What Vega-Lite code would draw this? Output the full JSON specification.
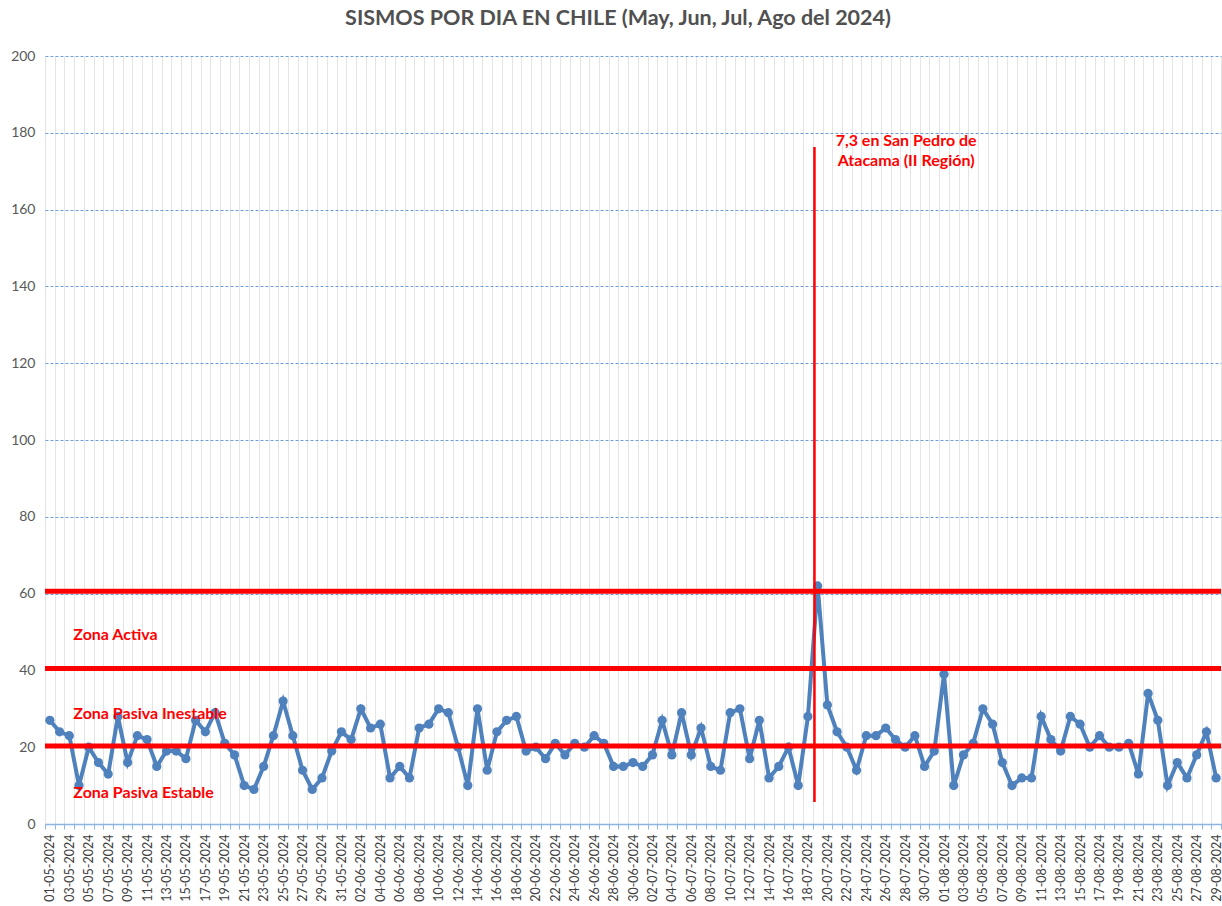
{
  "$schema": "https://vega.github.io/schema/vega-lite/v6.json",
  "autosize": "none",
  "width": 1176,
  "height": 768,
  "padding": {"left": 45, "top": 56, "right": 1, "bottom": 82},
  "background": "white",
  "config": {"view": {"stroke": null}, "font": "Lato"},
  "title": {"text": "SISMOS POR DIA EN CHILE (May, Jun, Jul, Ago del 2024)", "fontSize": 21.5, "font": "Lato", "fontWeight": "bold", "color": "#505050", "offset": 20, "dx": -15, "anchor": "middle"},
  "data": {"values": [
    {"fecha": "01-05-2024", "sismos": 27}, {"fecha": "02-05-2024", "sismos": 24}, {"fecha": "03-05-2024", "sismos": 23}, {"fecha": "04-05-2024", "sismos": 10}, {"fecha": "05-05-2024", "sismos": 20}, {"fecha": "06-05-2024", "sismos": 16}, {"fecha": "07-05-2024", "sismos": 13}, {"fecha": "08-05-2024", "sismos": 28}, {"fecha": "09-05-2024", "sismos": 16}, {"fecha": "10-05-2024", "sismos": 23},
    {"fecha": "11-05-2024", "sismos": 22}, {"fecha": "12-05-2024", "sismos": 15}, {"fecha": "13-05-2024", "sismos": 19}, {"fecha": "14-05-2024", "sismos": 19}, {"fecha": "15-05-2024", "sismos": 17}, {"fecha": "16-05-2024", "sismos": 27}, {"fecha": "17-05-2024", "sismos": 24}, {"fecha": "18-05-2024", "sismos": 29}, {"fecha": "19-05-2024", "sismos": 21}, {"fecha": "20-05-2024", "sismos": 18},
    {"fecha": "21-05-2024", "sismos": 10}, {"fecha": "22-05-2024", "sismos": 9}, {"fecha": "23-05-2024", "sismos": 15}, {"fecha": "24-05-2024", "sismos": 23}, {"fecha": "25-05-2024", "sismos": 32}, {"fecha": "26-05-2024", "sismos": 23}, {"fecha": "27-05-2024", "sismos": 14}, {"fecha": "28-05-2024", "sismos": 9}, {"fecha": "29-05-2024", "sismos": 12}, {"fecha": "30-05-2024", "sismos": 19},
    {"fecha": "31-05-2024", "sismos": 24}, {"fecha": "01-06-2024", "sismos": 22}, {"fecha": "02-06-2024", "sismos": 30}, {"fecha": "03-06-2024", "sismos": 25}, {"fecha": "04-06-2024", "sismos": 26}, {"fecha": "05-06-2024", "sismos": 12}, {"fecha": "06-06-2024", "sismos": 15}, {"fecha": "07-06-2024", "sismos": 12}, {"fecha": "08-06-2024", "sismos": 25}, {"fecha": "09-06-2024", "sismos": 26},
    {"fecha": "10-06-2024", "sismos": 30}, {"fecha": "11-06-2024", "sismos": 29}, {"fecha": "12-06-2024", "sismos": 20}, {"fecha": "13-06-2024", "sismos": 10}, {"fecha": "14-06-2024", "sismos": 30}, {"fecha": "15-06-2024", "sismos": 14}, {"fecha": "16-06-2024", "sismos": 24}, {"fecha": "17-06-2024", "sismos": 27}, {"fecha": "18-06-2024", "sismos": 28}, {"fecha": "19-06-2024", "sismos": 19},
    {"fecha": "20-06-2024", "sismos": 20}, {"fecha": "21-06-2024", "sismos": 17}, {"fecha": "22-06-2024", "sismos": 21}, {"fecha": "23-06-2024", "sismos": 18}, {"fecha": "24-06-2024", "sismos": 21}, {"fecha": "25-06-2024", "sismos": 20}, {"fecha": "26-06-2024", "sismos": 23}, {"fecha": "27-06-2024", "sismos": 21}, {"fecha": "28-06-2024", "sismos": 15}, {"fecha": "29-06-2024", "sismos": 15},
    {"fecha": "30-06-2024", "sismos": 16}, {"fecha": "01-07-2024", "sismos": 15}, {"fecha": "02-07-2024", "sismos": 18}, {"fecha": "03-07-2024", "sismos": 27}, {"fecha": "04-07-2024", "sismos": 18}, {"fecha": "05-07-2024", "sismos": 29}, {"fecha": "06-07-2024", "sismos": 18}, {"fecha": "07-07-2024", "sismos": 25}, {"fecha": "08-07-2024", "sismos": 15}, {"fecha": "09-07-2024", "sismos": 14},
    {"fecha": "10-07-2024", "sismos": 29}, {"fecha": "11-07-2024", "sismos": 30}, {"fecha": "12-07-2024", "sismos": 17}, {"fecha": "13-07-2024", "sismos": 27}, {"fecha": "14-07-2024", "sismos": 12}, {"fecha": "15-07-2024", "sismos": 15}, {"fecha": "16-07-2024", "sismos": 20}, {"fecha": "17-07-2024", "sismos": 10}, {"fecha": "18-07-2024", "sismos": 28}, {"fecha": "19-07-2024", "sismos": 62},
    {"fecha": "20-07-2024", "sismos": 31}, {"fecha": "21-07-2024", "sismos": 24}, {"fecha": "22-07-2024", "sismos": 20}, {"fecha": "23-07-2024", "sismos": 14}, {"fecha": "24-07-2024", "sismos": 23}, {"fecha": "25-07-2024", "sismos": 23}, {"fecha": "26-07-2024", "sismos": 25}, {"fecha": "27-07-2024", "sismos": 22}, {"fecha": "28-07-2024", "sismos": 20}, {"fecha": "29-07-2024", "sismos": 23},
    {"fecha": "30-07-2024", "sismos": 15}, {"fecha": "31-07-2024", "sismos": 19}, {"fecha": "01-08-2024", "sismos": 39}, {"fecha": "02-08-2024", "sismos": 10}, {"fecha": "03-08-2024", "sismos": 18}, {"fecha": "04-08-2024", "sismos": 21}, {"fecha": "05-08-2024", "sismos": 30}, {"fecha": "06-08-2024", "sismos": 26}, {"fecha": "07-08-2024", "sismos": 16}, {"fecha": "08-08-2024", "sismos": 10},
    {"fecha": "09-08-2024", "sismos": 12}, {"fecha": "10-08-2024", "sismos": 12}, {"fecha": "11-08-2024", "sismos": 28}, {"fecha": "12-08-2024", "sismos": 22}, {"fecha": "13-08-2024", "sismos": 19}, {"fecha": "14-08-2024", "sismos": 28}, {"fecha": "15-08-2024", "sismos": 26}, {"fecha": "16-08-2024", "sismos": 20}, {"fecha": "17-08-2024", "sismos": 23}, {"fecha": "18-08-2024", "sismos": 20},
    {"fecha": "19-08-2024", "sismos": 20}, {"fecha": "20-08-2024", "sismos": 21}, {"fecha": "21-08-2024", "sismos": 13}, {"fecha": "22-08-2024", "sismos": 34}, {"fecha": "23-08-2024", "sismos": 27}, {"fecha": "24-08-2024", "sismos": 10}, {"fecha": "25-08-2024", "sismos": 16}, {"fecha": "26-08-2024", "sismos": 12}, {"fecha": "27-08-2024", "sismos": 18}, {"fecha": "28-08-2024", "sismos": 24},
    {"fecha": "29-08-2024", "sismos": 12}
  ]},
  "encoding": {
    "x": {
      "field": "fecha", "type": "ordinal", "sort": null, "title": null,
      "scale": {"type": "band", "paddingInner": 0, "paddingOuter": 0},
      "axis": {
        "labelAngle": -90, "labelFontSize": 12.5, "labelColor": "#404040", "labelPadding": 5,
        "labelExpr": "round(datum.index * 120) % 2 === 0 ? datum.label : ''",
        "labelOverlap": false,
        "tickBand": "extent", "ticks": true, "tickColor": "#8DB4E2", "tickSize": 5, "tickWidth": 1,
        "domainColor": "#8DB4E2", "domainWidth": 1.5,
        "grid": true, "gridColor": "#E4E4E4", "gridWidth": 1
      }
    }
  },
  "layer": [
    {
      "mark": {"type": "line", "color": "#4F81BD", "strokeWidth": 4, "point": {"filled": true, "size": 85, "color": "#4F81BD"}},
      "encoding": {
        "y": {
          "field": "sismos", "type": "quantitative", "title": null,
          "scale": {"domain": [0, 200], "nice": false},
          "axis": {"values": [0, 20, 40, 60, 80, 100, 120, 140, 160, 180, 200], "labelFontSize": 14, "labelColor": "#595959", "labelPadding": 10, "ticks": false, "domain": false, "grid": true, "gridColor": "#6F9FD8", "gridDash": [3, 2], "gridWidth": 1}
        }
      }
    },
    {
      "data": {"values": [{"nivel": 20.3}, {"nivel": 40.5}, {"nivel": 60.6}]},
      "mark": {"type": "rule", "color": "#FF0000", "strokeWidth": 5},
      "encoding": {"x": null, "y": {"field": "nivel", "type": "quantitative"}}
    },
    {
      "transform": [{"filter": "datum.fecha === '19-07-2024'"}],
      "mark": {"type": "rule", "color": "#FF0000", "strokeWidth": 2.5},
      "encoding": {
        "x": {"field": "fecha", "type": "ordinal", "sort": null, "bandPosition": 0.17},
        "y": {"datum": 5.7, "type": "quantitative"},
        "y2": {"datum": 176.3}
      }
    },
    {
      "transform": [{"filter": "datum.fecha === '28-07-2024'"}],
      "mark": {"type": "text", "color": "#FF0000", "fontWeight": "bold", "fontSize": 16, "font": "Lato", "align": "center", "baseline": "middle", "lineHeight": 20, "dx": 1},
      "encoding": {
        "y": {"datum": 177.8, "type": "quantitative"},
        "text": {"value": ["7,3 en San Pedro de", "Atacama (II Región)"]}
      }
    },
    {
      "transform": [{"filter": "datum.fecha === '03-05-2024'"}],
      "mark": {"type": "text", "color": "#FF0000", "fontWeight": "bold", "fontSize": 16, "font": "Lato", "align": "left", "baseline": "middle", "dx": 4},
      "encoding": {"y": {"datum": 49.2, "type": "quantitative"}, "text": {"value": "Zona Activa"}}
    },
    {
      "transform": [{"filter": "datum.fecha === '03-05-2024'"}],
      "mark": {"type": "text", "color": "#FF0000", "fontWeight": "bold", "fontSize": 16, "font": "Lato", "align": "left", "baseline": "middle", "dx": 4},
      "encoding": {"y": {"datum": 28.6, "type": "quantitative"}, "text": {"value": "Zona Pasiva Inestable"}}
    },
    {
      "transform": [{"filter": "datum.fecha === '03-05-2024'"}],
      "mark": {"type": "text", "color": "#FF0000", "fontWeight": "bold", "fontSize": 16, "font": "Lato", "align": "left", "baseline": "middle", "dx": 4},
      "encoding": {"y": {"datum": 8.2, "type": "quantitative"}, "text": {"value": "Zona Pasiva Estable"}}
    }
  ]
}
